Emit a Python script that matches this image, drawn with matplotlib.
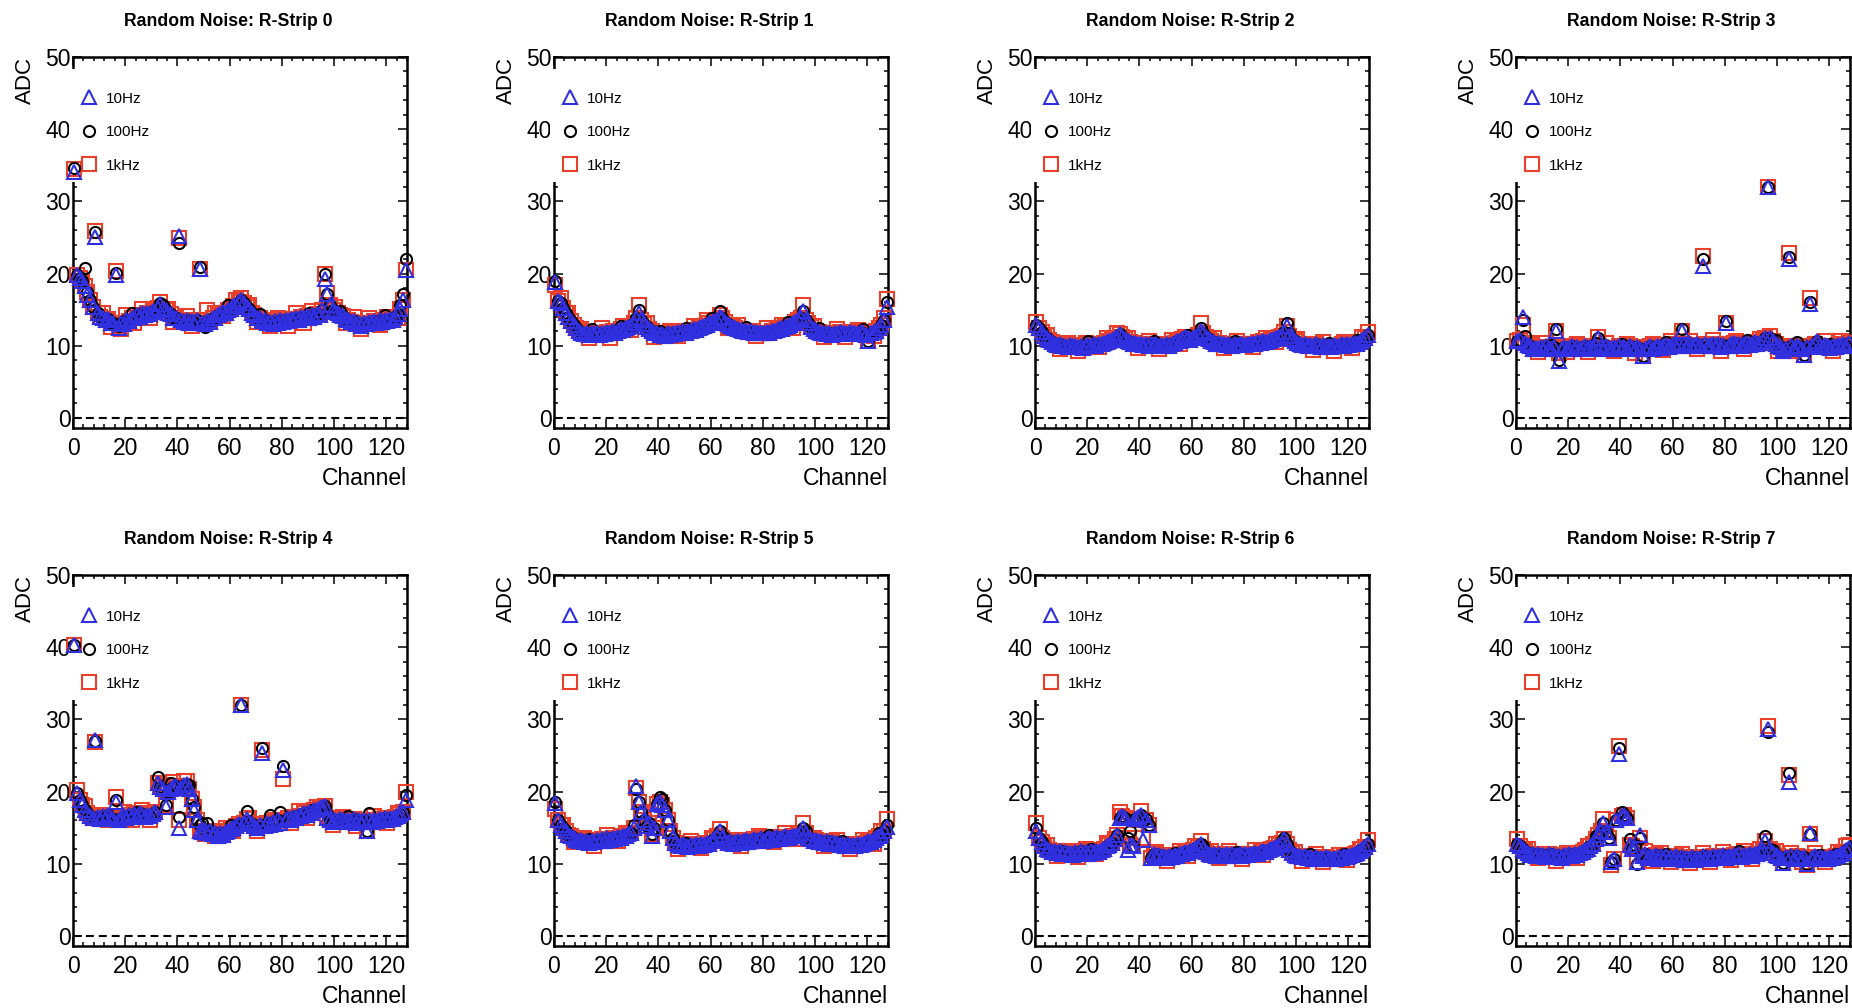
import numpy as np
import matplotlib.pyplot as plt
from matplotlib.patches import Rectangle
from matplotlib.ticker import MultipleLocator

plt.rcParams['font.family'] = ['Liberation Sans', 'DejaVu Sans']

channels = np.arange(128)
freq_labels = ['10Hz', '100Hz', '1kHz']
strip_titles = ['Random Noise: R-Strip %d' % i for i in range(8)]

# baseline noise per channel (shared by the three rates);
# the dicts hold channels where a rate sits away from the baseline
S0_BASE = [34.5, 19.8, 19.4, 19.0, 18.3, 17.4, 16.4, 15.4, 25.6, 14.6, 14.0, 13.9, 13.5, 13.7, 13.2, 13.1,
           20.1, 12.8, 13.2, 13.0, 13.6, 13.4, 13.9, 13.8, 14.2, 14.0, 14.5, 14.3, 14.6, 14.4, 14.8, 14.7,
           15.2, 15.8, 15.1, 15.0, 14.5, 14.4, 13.9, 13.8, 24.9, 13.6, 13.3, 13.5, 13.1, 13.4, 13.2, 13.6,
           20.6, 13.2, 13.0, 13.4, 13.3, 13.8, 13.9, 14.3, 14.4, 14.7, 14.6, 15.0, 15.1, 15.5, 15.6, 16.0,
           16.4, 15.9, 15.4, 15.1, 14.5, 14.3, 13.9, 13.8, 13.4, 13.5, 13.1, 13.3, 13.0, 13.4, 13.2, 13.5,
           13.3, 13.6, 13.4, 13.7, 13.5, 13.9, 13.6, 14.0, 13.8, 14.1, 13.9, 14.2, 14.0, 14.4, 14.3, 15.0,
           19.6, 17.1, 15.6, 15.0, 14.7, 14.6, 14.2, 14.1, 13.7, 13.6, 13.3, 13.4, 13.0, 13.2, 12.8, 13.1,
           13.0, 13.3, 13.1, 13.4, 13.2, 13.5, 13.3, 13.6, 13.4, 13.7, 13.6, 14.0, 14.4, 15.1, 16.4, 20.5]
S0_10HZ = {0: 34.0, 8: 25.0, 16: 19.8, 40: 25.2, 96: 19.3, 5: 17.0, 17: 12.4}
S0_100HZ = {0: 34.6, 4: 20.8, 8: 25.7, 40: 24.3, 48: 20.9, 96: 19.9, 126: 17.1, 127: 22.0, 33: 15.9,
            22: 14.5, 34: 15.7, 50: 12.6, 59: 15.6, 71: 14.4, 90: 14.5, 102: 14.8, 109: 12.6, 119: 14.2,
            125: 15.6}
S0_1KHZ = {8: 25.9, 16: 20.3, 33: 16.1, 97: 17.3, 96: 19.9, 18: 12.3, 64: 16.6, 51: 14.9,
           11: 14.5, 14: 12.6, 20: 14.2, 23: 13.2, 26: 15.1, 29: 13.9, 36: 15.1, 38: 13.3, 43: 14.1,
           45: 12.8, 54: 14.5, 57: 14.1, 62: 16.3, 67: 15.7, 70: 13.3, 75: 12.7, 78: 13.8, 82: 12.8,
           85: 14.5, 88: 13.2, 91: 14.8, 100: 15.3, 104: 13.1, 107: 14.0, 110: 12.3, 113: 13.9,
           117: 12.9, 120: 14.0, 124: 13.8}

S1_BASE = [18.8, 16.2, 15.9, 15.2, 14.6, 14.0, 13.4, 12.9, 12.4, 12.0, 11.8, 11.6, 11.7, 11.5, 11.8, 11.6,
           11.7, 11.5, 11.8, 11.6, 11.9, 11.7, 12.0, 11.8, 12.1, 12.3, 12.2, 12.4, 12.6, 12.8, 13.2, 13.8,
           15.0, 13.6, 13.0, 12.6, 12.3, 12.1, 11.8, 11.7, 11.5, 11.6, 11.4, 11.7, 11.5, 11.8, 11.6, 11.9,
           11.7, 12.0, 11.8, 12.1, 12.0, 12.3, 12.2, 12.5, 12.6, 12.8, 12.9, 13.1, 13.2, 13.4, 13.6, 14.3,
           13.9, 13.3, 13.0, 12.8, 12.6, 12.5, 12.3, 12.2, 12.0, 12.1, 11.9, 12.0, 11.8, 11.9, 11.7, 11.8,
           11.7, 11.9, 11.8, 12.0, 12.1, 12.2, 12.4, 12.3, 12.6, 12.8, 12.9, 13.1, 13.3, 13.5, 13.9, 14.8,
           13.6, 13.1, 12.6, 12.3, 12.1, 11.9, 11.7, 11.8, 11.6, 11.7, 11.5, 11.8, 11.6, 11.9, 11.7, 11.8,
           11.6, 11.9, 11.7, 11.8, 11.6, 11.9, 11.7, 11.5, 10.6, 11.7, 11.9, 12.0, 12.4, 12.9, 13.6, 16.0]
S1_10HZ = {32: 14.5, 127: 15.4, 63: 14.0}
S1_100HZ = {63: 14.8, 0: 19.0, 60: 13.8, 14: 12.3, 25: 12.8, 40: 12.1, 50: 12.4, 73: 12.6, 89: 13.3,
            101: 12.4, 118: 12.3}
S1_1KHZ = {32: 15.7, 95: 15.6, 127: 16.5, 126: 13.8, 0: 18.4, 2: 16.6,
           5: 14.6, 10: 12.3, 13: 11.0, 18: 12.4, 21: 11.1, 26: 12.8, 29: 12.2, 35: 13.1, 38: 11.2,
           44: 12.1, 47: 11.3, 53: 12.8, 58: 13.5, 66: 12.4, 70: 12.9, 77: 11.3, 81: 12.4, 87: 12.9,
           91: 12.5, 99: 12.8, 103: 11.2, 108: 12.3, 111: 11.2, 116: 12.2, 122: 11.3}

S2_BASE = [12.9, 12.4, 11.9, 11.4, 11.0, 10.8, 10.5, 10.3, 10.1, 10.2, 9.9, 10.0, 9.8, 10.1, 9.9, 10.0,
           9.8, 10.0, 9.7, 9.9, 10.1, 9.9, 10.2, 10.0, 10.3, 10.2, 10.4, 10.5, 10.7, 10.8, 11.0, 11.2,
           11.6, 11.2, 10.9, 10.6, 10.5, 10.3, 10.4, 10.2, 10.3, 10.1, 10.2, 10.0, 10.3, 10.1, 10.2, 10.0,
           10.1, 9.9, 10.2, 10.0, 10.3, 10.4, 10.6, 10.7, 10.9, 11.2, 11.0, 10.8, 11.0, 11.2, 11.5, 12.5,
           11.8, 11.2, 10.9, 10.6, 10.5, 10.3, 10.4, 10.2, 10.3, 10.1, 10.2, 10.0, 10.3, 10.1, 10.2, 10.3,
           10.1, 10.3, 10.2, 10.4, 10.3, 10.5, 10.4, 10.6, 10.5, 10.7, 10.8, 10.9, 11.0, 11.2, 11.4, 11.9,
           12.8, 11.4, 10.9, 10.6, 10.4, 10.3, 10.1, 10.2, 10.0, 10.1, 9.9, 10.2, 10.0, 9.8, 10.1, 9.9,
           10.0, 9.8, 10.1, 9.9, 10.0, 10.2, 10.0, 10.3, 10.1, 10.2, 10.4, 10.3, 10.5, 10.8, 11.0, 11.5]
S2_10HZ = {63: 12.0}
S2_100HZ = {96: 13.2, 20: 10.6, 45: 10.7, 58: 11.5, 76: 10.7, 97: 11.8, 112: 10.4, 123: 10.8}
S2_1KHZ = {0: 13.3, 63: 13.2, 127: 11.9, 31: 11.8,
           4: 11.5, 9: 9.6, 12: 10.4, 16: 9.3, 19: 10.4, 24: 9.8, 27: 11.0, 35: 11.1, 39: 9.7, 43: 10.6,
           47: 9.5, 52: 10.8, 55: 10.2, 68: 11.0, 72: 9.7, 77: 10.6, 83: 9.8, 88: 11.0, 92: 10.5,
           100: 10.9, 106: 9.4, 110: 10.5, 114: 9.3, 118: 10.5, 121: 9.7, 125: 11.2}

S3_BASE = [10.6, 10.8, 13.6, 10.4, 10.1, 9.9, 9.6, 9.7, 9.5, 9.8, 9.6, 9.9, 9.7, 9.5, 9.8, 12.0,
           8.0, 9.6, 9.8, 9.5, 9.7, 9.9, 9.6, 9.8, 9.5, 9.7, 9.9, 9.6, 9.8, 9.7, 10.0, 11.0,
           9.8, 9.6, 9.9, 9.7, 9.5, 9.8, 9.6, 9.9, 9.7, 9.8, 9.6, 9.9, 9.7, 9.5, 9.8, 9.6,
           8.6, 9.5, 9.7, 9.9, 9.6, 9.8, 10.0, 9.7, 9.9, 10.1, 9.8, 10.0, 10.2, 9.9, 10.1, 12.0,
           10.3, 10.0, 10.2, 9.9, 10.1, 10.3, 10.0, 21.6, 10.2, 9.9, 10.1, 10.3, 10.0, 10.2, 9.8, 10.1,
           13.2, 10.0, 10.2, 10.4, 10.1, 10.3, 10.0, 10.2, 10.4, 10.1, 10.3, 10.5, 10.2, 10.4, 10.6, 11.0,
           32.0, 11.0, 10.6, 10.2, 10.0, 9.8, 9.2, 9.6, 22.3, 9.9, 9.7, 10.0, 9.8, 9.6, 8.7, 9.8,
           16.1, 9.9, 10.2, 10.6, 10.0, 9.8, 10.1, 9.9, 9.7, 10.0, 9.8, 10.1, 9.9, 10.2, 10.0, 10.4]
S3_10HZ = {71: 21.0, 104: 22.0, 112: 15.8, 2: 14.0, 16: 7.9}
S3_100HZ = {3: 11.3, 71: 22.0, 15: 12.3, 63: 12.3, 80: 13.4,
            13: 10.1, 30: 10.4, 40: 10.2, 57: 10.5, 88: 10.8, 99: 10.8, 107: 10.5, 120: 10.3}
S3_1KHZ = {71: 22.4, 104: 22.8, 112: 16.6, 2: 12.9, 16: 9.0, 31: 11.2,
           5: 10.4, 8: 9.1, 11: 10.4, 19: 9.1, 23: 10.3, 27: 9.1, 34: 10.4, 37: 9.2, 42: 10.2, 45: 9.0,
           52: 10.2, 56: 9.4, 59: 10.6, 66: 10.7, 69: 9.6, 75: 10.8, 78: 9.3, 84: 10.7, 87: 9.6,
           93: 10.9, 97: 11.3, 100: 9.3, 106: 9.2, 115: 10.0, 118: 10.6, 121: 9.3, 124: 10.6}

S4_BASE = [40.3, 19.8, 18.8, 18.2, 17.5, 17.0, 16.6, 16.3, 27.0, 16.5, 16.2, 16.6, 16.3, 16.7, 16.4, 16.2,
           18.8, 16.0, 16.4, 16.6, 16.3, 16.8, 16.5, 16.9, 16.6, 17.0, 16.7, 16.5, 16.8, 16.6, 16.9, 17.2,
           21.2, 20.6, 20.3, 18.2, 20.0, 20.4, 20.6, 20.8, 15.6, 20.5, 20.9, 21.0, 20.4, 19.0, 17.8, 16.0,
           14.6, 14.4, 14.7, 14.3, 14.5, 14.1, 14.3, 13.9, 14.2, 14.0, 14.4, 14.6, 14.8, 15.0, 15.2, 15.5,
           32.0, 15.6, 16.2, 15.8, 15.5, 15.2, 15.0, 15.3, 25.6, 15.2, 15.6, 15.4, 15.8, 15.5, 16.0, 15.7,
           23.0, 16.0, 16.3, 16.1, 16.5, 16.3, 16.8, 16.6, 17.0, 16.8, 17.2, 17.0, 17.4, 17.5, 17.7, 17.9,
           18.0, 16.4, 16.0, 15.8, 16.1, 15.9, 16.2, 16.0, 15.8, 16.1, 15.9, 16.2, 15.7, 16.0, 15.8, 16.1,
           14.6, 16.0, 15.8, 16.1, 15.9, 16.2, 16.0, 16.3, 16.1, 16.4, 16.2, 16.5, 16.6, 16.9, 17.2, 19.5]
S4_10HZ = {8: 27.2, 16: 18.5, 40: 15.0, 127: 18.8, 35: 17.8, 46: 17.5, 72: 25.3}
S4_100HZ = {32: 22.0, 40: 16.5, 66: 17.3, 75: 16.8, 79: 17.2, 113: 17.0, 72: 26.0, 80: 23.5, 49: 15.6,
            51: 15.6, 24: 17.1, 37: 21.2, 44: 20.9, 48: 15.3, 60: 15.3, 91: 17.5, 97: 16.9, 105: 16.6}
S4_1KHZ = {8: 26.8, 16: 19.2, 40: 16.0, 80: 21.8, 127: 20.0, 72: 25.8, 43: 21.5, 42: 21.4, 1: 20.2,
           4: 18.0, 10: 16.8, 13: 16.0, 19: 17.2, 22: 16.0, 26: 17.5, 29: 16.1, 34: 20.9, 38: 21.3,
           50: 14.1, 54: 13.8, 58: 14.9, 61: 14.6, 67: 16.3, 70: 14.6, 77: 16.1, 83: 15.6, 86: 17.3,
           89: 16.3, 93: 17.9, 99: 15.3, 103: 16.5, 108: 15.2, 115: 16.6, 120: 15.6, 124: 17.0}

S5_BASE = [18.4, 16.0, 15.4, 14.9, 14.5, 14.0, 13.8, 13.5, 13.3, 13.1, 13.3, 13.0, 13.2, 12.9, 13.2, 13.0,
           13.3, 13.1, 13.4, 13.2, 13.5, 13.3, 13.6, 13.4, 13.7, 13.6, 13.9, 13.8, 14.1, 14.3, 14.9, 20.5,
           18.6, 17.2, 16.0, 15.2, 15.6, 14.1, 15.0, 18.3, 18.6, 18.2, 17.4, 16.0, 14.6, 13.5, 12.9, 12.6,
           12.4, 12.7, 12.5, 12.3, 12.6, 12.4, 12.7, 12.5, 12.8, 12.6, 12.9, 12.8, 13.1, 13.4, 13.9, 14.5,
           13.6, 13.2, 12.9, 13.1, 12.8, 13.0, 13.2, 12.9, 13.1, 13.3, 13.0, 13.2, 13.4, 13.1, 13.3, 13.5,
           13.2, 13.4, 13.6, 13.3, 13.5, 13.7, 13.4, 13.6, 13.8, 13.5, 13.7, 13.9, 13.8, 14.0, 14.3, 15.0,
           14.2, 13.6, 13.4, 13.1, 13.3, 13.0, 13.2, 12.9, 13.1, 12.8, 13.0, 12.7, 12.9, 12.6, 12.8, 12.5,
           12.7, 12.4, 12.6, 12.5, 12.7, 12.6, 12.8, 12.9, 13.1, 13.0, 13.3, 13.5, 13.8, 14.0, 14.5, 15.3]
S5_10HZ = {31: 20.8, 37: 13.9, 127: 15.1}
S5_100HZ = {40: 19.2, 41: 19.0, 31: 20.3, 0: 18.6,
            13: 13.4, 30: 15.3, 50: 12.9, 65: 13.6, 82: 14.0, 96: 14.6, 110: 13.2, 124: 14.2}
S5_1KHZ = {0: 17.6, 127: 16.2, 63: 14.8, 95: 15.6,
           3: 15.4, 7: 13.0, 11: 13.6, 15: 12.5, 20: 14.0, 24: 13.2, 27: 14.3, 47: 12.1, 52: 13.1,
           56: 12.2, 60: 13.6, 68: 13.3, 71: 12.4, 78: 13.8, 84: 13.0, 88: 14.2, 92: 13.4, 99: 13.6,
           103: 12.4, 108: 13.3, 113: 12.0, 118: 13.3, 122: 12.8, 125: 14.5}

S6_BASE = [14.9, 13.6, 13.0, 12.5, 12.1, 11.9, 11.6, 11.8, 11.5, 11.7, 11.4, 11.6, 11.3, 11.5, 11.2, 11.6,
           11.4, 11.7, 11.3, 11.6, 11.4, 11.7, 11.5, 11.8, 11.6, 11.9, 12.1, 12.4, 12.6, 12.9, 13.4, 14.0,
           16.4, 16.6, 16.3, 13.5, 12.6, 12.4, 16.2, 16.5, 16.8, 13.6, 16.1, 15.4, 10.8, 11.3, 11.0, 11.2,
           10.9, 11.1, 10.8, 11.0, 10.9, 11.2, 11.0, 11.3, 11.4, 11.6, 11.5, 11.8, 11.9, 12.1, 12.3, 12.8,
           12.0, 11.6, 11.4, 11.2, 11.3, 11.1, 11.3, 11.0, 11.2, 11.4, 11.1, 11.3, 11.0, 11.2, 11.4, 11.1,
           11.3, 11.2, 11.4, 11.3, 11.5, 11.4, 11.6, 11.7, 11.6, 11.9, 12.0, 12.2, 12.3, 12.6, 12.9, 13.4,
           12.7, 11.9, 11.5, 11.2, 11.0, 11.1, 10.9, 11.0, 10.8, 10.9, 10.7, 10.9, 10.6, 10.8, 10.7, 10.9,
           10.8, 10.6, 10.8, 10.7, 10.9, 10.8, 11.0, 10.9, 11.1, 11.2, 11.4, 11.5, 11.7, 12.0, 12.3, 12.8]
S6_10HZ = {35: 11.9, 41: 13.3, 0: 14.6}
S6_100HZ = {41: 16.0, 42: 16.2, 95: 13.6, 36: 14.5,
            10: 11.8, 21: 12.0, 53: 11.5, 64: 12.4, 77: 11.6, 94: 13.1, 105: 11.3, 118: 11.4}
S6_1KHZ = {0: 15.7, 32: 17.2, 40: 17.3, 63: 13.1, 127: 13.3, 39: 16.0,
           4: 12.6, 8: 11.0, 12: 11.8, 16: 10.9, 19: 12.0, 23: 11.3, 27: 12.9, 46: 11.6, 50: 10.4,
           55: 11.7, 58: 11.0, 61: 12.5, 67: 11.7, 70: 10.8, 74: 11.7, 79: 10.6, 84: 11.9, 87: 11.2,
           92: 12.7, 99: 11.6, 102: 10.4, 107: 11.3, 110: 10.3, 116: 11.2, 119: 10.5, 124: 12.1}

S7_BASE = [12.7, 12.4, 12.0, 11.7, 11.5, 11.2, 11.4, 11.1, 11.3, 11.0, 11.2, 10.9, 11.3, 11.0, 11.2, 10.9,
           11.1, 10.8, 11.2, 11.0, 11.3, 11.1, 11.4, 11.2, 11.5, 11.6, 11.9, 12.1, 12.4, 12.8, 13.4, 14.0,
           14.6, 15.6, 14.4, 13.6, 10.2, 10.6, 16.0, 25.6, 16.6, 16.8, 16.3, 12.6, 12.0, 12.2, 10.2, 13.6,
           11.0, 11.3, 10.8, 11.1, 10.9, 11.2, 10.7, 11.0, 10.8, 11.1, 10.6, 10.9, 10.7, 11.0, 10.6, 10.9,
           10.5, 10.8, 10.6, 10.9, 10.5, 10.8, 10.7, 11.0, 10.6, 10.9, 10.7, 11.0, 10.8, 11.1, 10.9, 11.2,
           10.8, 11.1, 10.9, 11.2, 11.0, 11.3, 10.9, 11.2, 11.0, 11.3, 11.1, 11.4, 11.3, 11.6, 11.9, 13.2,
           28.6, 12.0, 11.5, 11.2, 11.0, 10.8, 10.1, 10.9, 21.8, 11.0, 10.7, 11.0, 10.8, 10.6, 10.9, 9.9,
           14.1, 10.8, 11.0, 10.7, 10.9, 10.6, 10.8, 10.7, 10.9, 10.8, 11.0, 11.1, 11.3, 11.5, 11.9, 12.2]
S7_10HZ = {39: 25.2, 104: 21.3, 47: 14.0, 112: 14.2}
S7_100HZ = {39: 26.0, 40: 17.1, 43: 13.4, 96: 28.2, 95: 13.8, 46: 10.0, 104: 22.5,
            13: 11.4, 30: 13.8, 45: 12.6, 57: 11.4, 72: 11.0, 85: 11.7, 98: 11.9, 116: 11.2, 122: 11.4}
S7_1KHZ = {39: 26.3, 96: 29.1, 104: 22.3, 0: 13.4, 33: 16.2, 111: 9.8, 127: 12.6, 36: 9.8,
           4: 12.0, 8: 10.8, 11: 11.4, 15: 10.4, 19: 11.5, 23: 10.8, 27: 12.5, 44: 12.4, 49: 11.7,
           52: 10.4, 55: 11.5, 59: 10.3, 63: 11.4, 66: 10.1, 71: 11.5, 74: 10.3, 79: 11.6, 82: 10.5,
           87: 11.7, 90: 10.7, 93: 12.0, 99: 11.7, 105: 11.5, 109: 10.2, 114: 11.5, 118: 10.3,
           123: 11.6, 126: 12.4}

strips = [
    (S0_BASE, S0_10HZ, S0_100HZ, S0_1KHZ),
    (S1_BASE, S1_10HZ, S1_100HZ, S1_1KHZ),
    (S2_BASE, S2_10HZ, S2_100HZ, S2_1KHZ),
    (S3_BASE, S3_10HZ, S3_100HZ, S3_1KHZ),
    (S4_BASE, S4_10HZ, S4_100HZ, S4_1KHZ),
    (S5_BASE, S5_10HZ, S5_100HZ, S5_1KHZ),
    (S6_BASE, S6_10HZ, S6_100HZ, S6_1KHZ),
    (S7_BASE, S7_10HZ, S7_100HZ, S7_1KHZ),
]

# marker style per rate: (marker, colour, size)
styles = {
    '10Hz': ('^', '#3030e0', 9.5),
    '100Hz': ('o', 'black', 8.0),
    '1kHz': ('s', '#e8402a', 9.5),
}
draw_order = ['1kHz', '100Hz', '10Hz']


def series(base, overrides):
    y = np.array(base, dtype=float)
    for ch, val in overrides.items():
        y[ch] = val
    return y


W, H = 1852, 1008
col_left = [73, 554, 1035, 1516]
row_top = [57, 575]
title_y = [21, 539]
ax_w, ax_h = 334, 371

fig = plt.figure(figsize=(W / 100, H / 100), dpi=100)

for i, (base, o10, o100, o1k) in enumerate(strips):
    r, c = divmod(i, 4)
    left, top = col_left[c], row_top[r]
    ax = fig.add_axes([left / W, 1 - (top + ax_h) / H, ax_w / W, ax_h / H])

    data = {'10Hz': series(base, o10), '100Hz': series(base, o100), '1kHz': series(base, o1k)}
    handles = {}
    for name in draw_order:
        m, col, ms = styles[name]
        h, = ax.plot(channels + 0.5, data[name], linestyle='none', marker=m, markersize=ms,
                     markerfacecolor='none', markeredgecolor=col, markeredgewidth=1.5,
                     zorder=3, clip_on=False)
        handles[name] = h

    ax.axhline(0, color='black', lw=1.5, linestyle=(0, (3.8, 2.4)), zorder=2)
    ax.set_xlim(0, 128)
    ax.set_ylim(-1.4, 50)
    ax.xaxis.set_major_locator(MultipleLocator(20))
    ax.xaxis.set_minor_locator(MultipleLocator(4))
    ax.yaxis.set_major_locator(MultipleLocator(10))
    ax.yaxis.set_minor_locator(MultipleLocator(2))
    ax.tick_params(which='both', direction='in', top=True, right=True, width=1.1)
    ax.tick_params(which='major', length=6.5, labelsize=16.5)
    ax.tick_params(which='minor', length=3.2)
    ax.tick_params(axis='x', pad=6.5)
    ax.tick_params(axis='y', pad=1.5)
    for sp in ax.spines.values():
        sp.set_linewidth(1.8)

    # legend box hides the left frame in ROOT
    ax.add_patch(Rectangle((-1.5, 32.7), 5.0, 15.7, facecolor='white', edgecolor='none',
                           zorder=2.6, clip_on=False))
    leg = ax.legend([handles[n] for n in freq_labels], freq_labels, loc='upper left',
                    bbox_to_anchor=(3.3, 45.2), bbox_transform=ax.transData, frameon=False,
                    fontsize=11, handlelength=1.0, handletextpad=0.6, labelspacing=1.28,
                    borderpad=0, borderaxespad=0, numpoints=1)
    leg.set_zorder(2.7)

    fig.text((left + ax_w / 2 - 12) / W, 1 - title_y[r] / H, strip_titles[i],
             ha='center', va='center', fontsize=12.7, fontweight='bold')
    fig.text((left - 48) / W, 1 - top / H, 'ADC', rotation=90, ha='center', va='top', fontsize=16)
    fig.text((left + ax_w) / W, 1 - (top + ax_h + 57) / H, 'Channel', ha='right',
             va='baseline', fontsize=16.5)

fig.savefig('out.png', dpi=100)
